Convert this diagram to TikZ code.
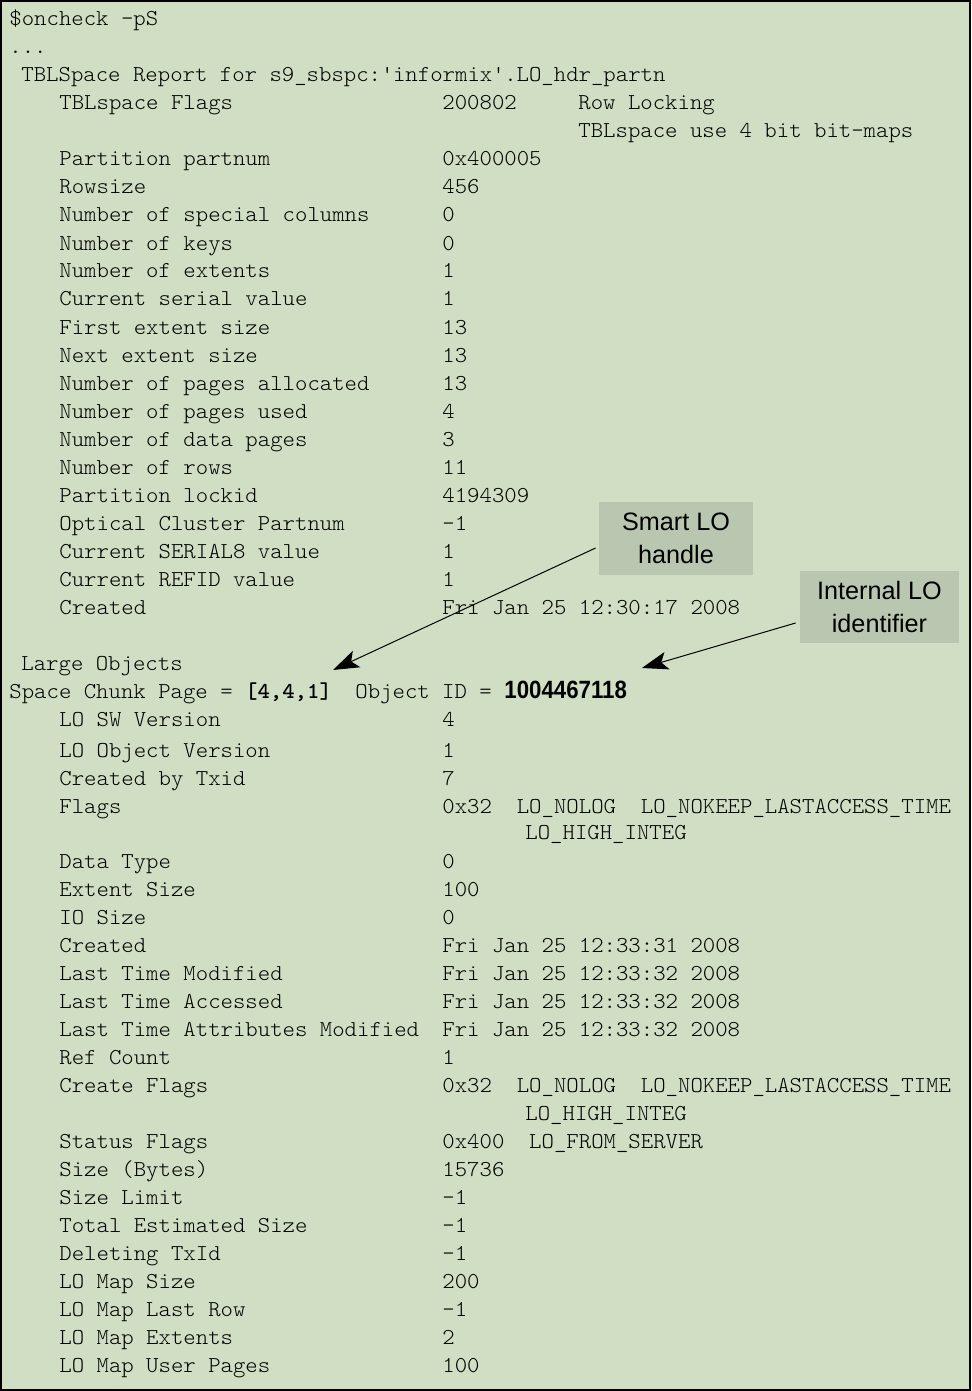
\documentclass[tikz,border=0pt]{standalone}
\usepackage{fontspec}
\usetikzlibrary{arrows.meta, positioning}
\newfontfamily\listfont{lmmonolt10-regular.otf}[FakeStretch=1.04, BoldFont=lmmonolt10-bold.otf]
\newfontfamily\notefont{Liberation Sans}
\newfontfamily\idfont{Liberation Sans}[FakeStretch=0.89]
\definecolor{sheet}{RGB}{208,223,196}
\definecolor{notefill}{RGB}{185,199,176}

\tikzset{
  txt/.style={anchor=base west, inner sep=0pt, font=\listfont\fontsize{11.36}{12}\selectfont},
  note/.style={fill=notefill, inner sep=0pt, align=center, font=\notefont\fontsize{12.6}{16.5}\selectfont},
  pointer/.style={-{Stealth[length=13pt, width=9pt, inset=3pt]}, line width=0.5pt}
}

\begin{document}
\begin{tikzpicture}[x=0.5pt, y=-0.5pt]
  \useasboundingbox (0,0) rectangle (971,1391);
  \draw[line width=1pt, fill=sheet] (1,1) rectangle (970,1390);

  % header
  \node[txt] (cmd) at (9,26) {\$oncheck -pS};
  \node[txt] (dots) at (9,54) {...};
  \node[txt] (report) at (21,82) {TBLSpace Report for s9\_sbspc:\textquotesingle informix\textquotesingle.LO\_hdr\_partn};
  \node[txt] (lock) at (578,110) {Row Locking};
  \node[txt] (bitmaps) at (578,138) {TBLspace use 4 bit bit-maps};

  % partition rows
  \foreach \y/\lab/\val in {
      110/TBLspace Flags/200802,
      166/Partition partnum/0x400005,
      194/Rowsize/456,
      222/Number of special columns/0,
      250/Number of keys/0,
      278/Number of extents/1,
      306/Current serial value/1,
      334/First extent size/13,
      362/Next extent size/13,
      390/Number of pages allocated/13,
      418/Number of pages used/4,
      446/Number of data pages/3,
      474/Number of rows/11,
      502/Partition lockid/4194309,
      530/Optical Cluster Partnum/-1,
      558/Current SERIAL8 value/1,
      586/Current REFID value/1,
      614/Created/Fri Jan 25 12:30:17 2008}
  {
    \node[txt] (lab\y) at (59,\y) {\lab};
    \node[txt] (val\y) at (442,\y) {\val};
  }

  % large object header
  \node[txt] (lobj) at (21,670) {Large Objects};
  \node[txt] (chunk) at (9,698) {Space Chunk Page = \textbf{[4,4,1]}};
  \node[txt] (objid) at (355,698) {Object ID =};
  \node[txt, font=\idfont\bfseries\fontsize{12.5}{12}\selectfont] (objnum) at (504,698) {1004467118};

  % large object rows
  \foreach \y/\lab/\val in {
      726/LO SW Version/4,
      757/LO Object Version/1,
      785/Created by Txid/7,
      813/Flags/0x32\ \ LO\_NOLOG\ \ LO\_NOKEEP\_LASTACCESS\_TIME,
      868/Data Type/0,
      896/Extent Size/100,
      924/IO Size/0,
      952/Created/Fri Jan 25 12:33:31 2008,
      980/Last Time Modified/Fri Jan 25 12:33:32 2008,
      1008/Last Time Accessed/Fri Jan 25 12:33:32 2008,
      1036/Last Time Attributes Modified/Fri Jan 25 12:33:32 2008,
      1064/Ref Count/1,
      1092/Create Flags/0x32\ \ LO\_NOLOG\ \ LO\_NOKEEP\_LASTACCESS\_TIME,
      1148/Status Flags/0x400\ \ LO\_FROM\_SERVER,
      1176/Size (Bytes)/15736,
      1204/Size Limit/-1,
      1232/Total Estimated Size/-1,
      1260/Deleting TxId/-1,
      1288/LO Map Size/200,
      1316/LO Map Last Row/-1,
      1344/LO Map Extents/2,
      1372/LO Map User Pages/100}
  {
    \node[txt] (lab\y) at (59,\y) {\lab};
    \node[txt] (val\y) at (442,\y) {\val};
  }
  \node[txt] (integ1) at (525,839) {LO\_HIGH\_INTEG};
  \node[txt] (integ2) at (525,1120) {LO\_HIGH\_INTEG};

  % callouts
  \node[note, minimum width=77pt, minimum height=36.5pt] (smart) at (676,538.5) {Smart LO\\handle};
  \node[note, minimum width=79.5pt, minimum height=36pt] (internal) at (879.5,607) {Internal LO\\identifier};
  \coordinate (chunktip) at (333,670);
  \coordinate (idtip) at (642,668);

  \draw[pointer] ([xshift=-1.5pt, yshift=-4.75pt]smart.west) -- (chunktip);
  \draw[pointer] ([xshift=-2pt, yshift=-8pt]internal.west) -- (idtip);
\end{tikzpicture}
\end{document}
